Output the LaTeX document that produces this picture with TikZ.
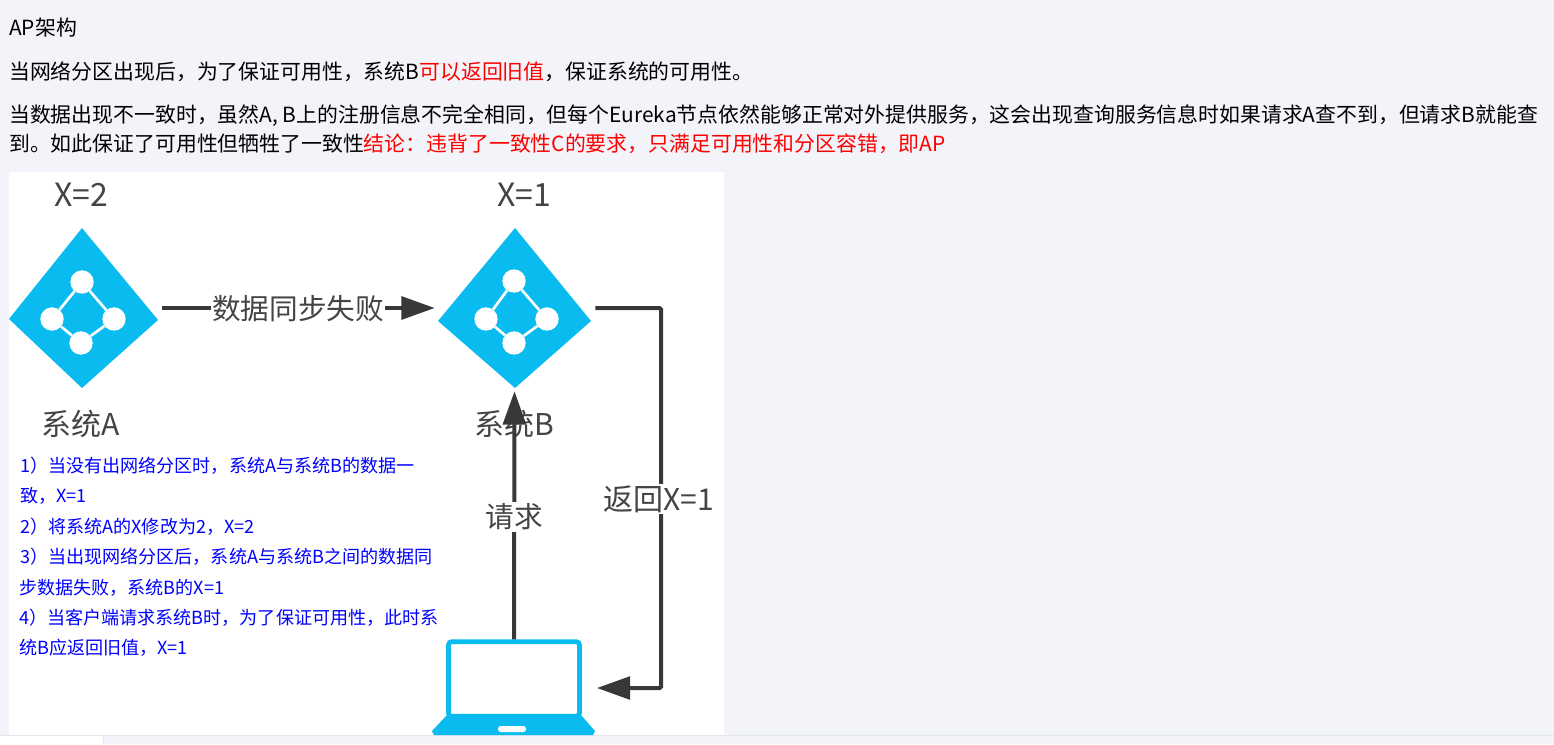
\documentclass[tikz,border=0pt]{standalone}
\usepackage{fontspec}
\setmainfont{Noto Sans CJK SC}
\usetikzlibrary{shapes.geometric,arrows.meta}
\definecolor{pagebg}{HTML}{F3F4F9}
\definecolor{stripline}{HTML}{E4E6EE}
\definecolor{skyblue}{HTML}{0ABBF0}
\definecolor{inkgray}{HTML}{444444}
\definecolor{linegray}{HTML}{383838}
\newcommand{\bodyfont}{\fontsize{15.65pt}{18pt}\selectfont}
\newcommand{\notefont}{\fontsize{13.55pt}{16pt}\selectfont}
\newcommand{\figfont}{\fontsize{21.5pt}{24pt}\selectfont}
\newcommand{\sysfont}{\fontsize{22.5pt}{24pt}\selectfont}
\newcommand{\xfont}{\fontsize{24pt}{26pt}\selectfont}
\tikzset{
  x=0.75pt,y=-0.75pt,
  bodyline/.style={anchor=base west,inner sep=0pt,font=\bodyfont,text=black},
  noteline/.style={anchor=base west,inner sep=0pt,font=\notefont,text=blue},
  figlabel/.style={inner sep=0pt,font=\figfont,text=inkgray},
  syslabel/.style={inner sep=0pt,font=\sysfont,text=inkgray},
  xlabel/.style={inner sep=0pt,font=\xfont,text=inkgray},
  figcover/.style={figlabel,fill=white,inner xsep=1pt,inner ysep=1pt},
  sysbox/.style={inner sep=0pt,minimum height=120pt},
  kite/.style={fill=skyblue},
  netdot/.style={circle,fill=white,inner sep=0pt,minimum size=17.5pt},
  netlink/.style={draw=white,line width=2pt},
  flowline/.style={draw=linegray,line width=3pt,-{Triangle[length=25pt,width=17pt]}},
}
\begin{document}
\begin{tikzpicture}
\useasboundingbox (0,0) rectangle (1554,744);
\fill[pagebg] (0,0) rectangle (1554,744);
\fill[white] (9,172) rectangle (724,735);
\fill[white] (0,736) rectangle (103,744);
\draw[stripline,line width=0.75pt] (0,735.5) -- (1554,735.5);
\draw[stripline,line width=0.75pt] (103.5,735.5) -- (103.5,744);

\node[bodyline] (l1) at (9,35) {AP架构};
\node[bodyline] (l2) at (9,79) {当网络分区出现后，为了保证可用性，系统B\textcolor{red}{可以返回旧值}，保证系统的可用性。};
\node[bodyline] (l3) at (9,122) {当数据出现不一致时，虽然A, B上的注册信息不完全相同，但每个Eureka节点依然能够正常对外提供服务，这会出现查询服务信息时如果请求A查不到，但请求B就能查};
\node[bodyline] (l4) at (9,151.5) {到。如此保证了可用性但牺牲了一致性\textcolor{red}{结论：违背了一致性C的要求，只满足可用性和分区容错，即AP}};

% system A
\node[sysbox,minimum width=111.75pt] (sysA) at (83.5,308) {};
\fill[kite] (82,228) -- (158,320) -- (82,388) -- (9,319) -- cycle;
\node[netdot] (at) at (82,282) {};
\node[netdot] (al) at (52,319) {};
\node[netdot] (ar) at (114,319) {};
\node[netdot] (ab) at (81,343) {};
\draw[netlink] (at) -- (ar) -- (ab) -- (al) -- (at);
% system B
\node[sysbox,minimum width=114.75pt] (sysB) at (514.5,308) {};
\fill[kite] (515,228) -- (591,321) -- (515,388) -- (438,321) -- cycle;
\node[netdot] (bt) at (514,281) {};
\node[netdot] (bl) at (486,319) {};
\node[netdot] (br) at (547,319) {};
\node[netdot] (bb) at (514,343) {};
\draw[netlink] (bt) -- (br) -- (bb) -- (bl) -- (bt);

\node[xlabel] (xa) at (81,195) {X=2};
\node[xlabel] (xb) at (524,195) {X=1};
\node[syslabel] (na) at (81,424) {系统A};
\node[syslabel] (nb) at (514,424) {系统B};

% laptop
\node[draw=skyblue,line width=3.6pt,fill=white,rounded corners=2.5pt,minimum width=98.25pt,minimum height=56pt,inner sep=0pt] (laptop) at (514,679) {};
\fill[skyblue] (447,715) -- (581,715) -- (595,731) -- (593,735) -- (434,735) -- (432,731) -- cycle;
\node[fill=white,rounded corners=2pt,minimum width=21pt,minimum height=4.5pt,inner sep=0pt] (pad) at (512,729) {};

% connectors
\coordinate (retTop) at (661,308);
\coordinate (retBot) at (661,688);
\draw[flowline] ([shift={(4,0)}]sysA.east) -- ([shift={(-3,0)}]sysB.west);
\draw[flowline] (laptop.north) -- ([shift={(0,3)}]sysB.south);
\draw[flowline,rounded corners=1pt] ([shift={(4,0)}]sysB.east) -- (retTop) -- (retBot) -- ([shift={(15,9)}]laptop.east);

\node[figcover] (sync) at (298,309) {数据同步失败};
\node[figcover] (req) at (514,517) {请求};
\node[figcover,font=\sysfont] (ret) at (659,499) {返回X=1};

% notes
\node[noteline] (n1) at (20,472.5) {1）当没有出网络分区时，系统A与系统B的数据一};
\node[noteline] (n2) at (20,502.5) {致，X=1};
\node[noteline] (n3) at (20,533.5) {2）将系统A的X修改为2，X=2};
\node[noteline] (n4) at (20,563.5) {3）当出现网络分区后，系统A与系统B之间的数据同};
\node[noteline] (n5) at (19,594.5) {步数据失败，系统B的X=1};
\node[noteline] (n6) at (19,624.5) {4）当客户端请求系统B时，为了保证可用性，此时系};
\node[noteline] (n7) at (19,654.5) {统B应返回旧值，X=1};
\end{tikzpicture}
\end{document}
